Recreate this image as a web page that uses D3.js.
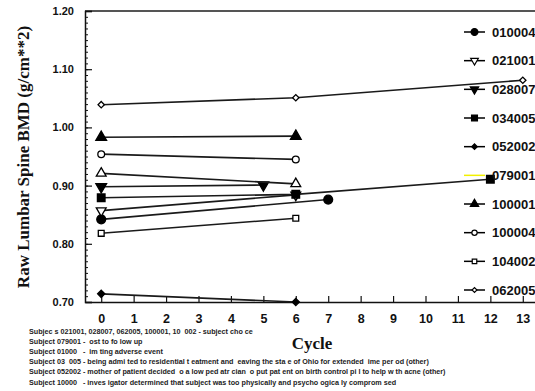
<!DOCTYPE html>
<html>
<head>
<meta charset="utf-8">
<script src="https://cdn.jsdelivr.net/npm/d3@7"></script>
<style>
  body { margin: 0; background: #fff; }
  svg { display: block; }
</style>
</head>
<body>
<div id="chart"></div>
<script>
// subjects, in legend order
const subjects = ['010004', '021001', '028007', '034005', '052002', '079001', '100001', '100004', '104002', '062005'];
// cycles at which each subject was measured
const seriesCycles = [[0, 7], [0, 6], [0, 5], [0, 6, 12], [0, 6], [0, 6], [0, 6], [0, 6], [0, 6], [0, 6, 13]];
// raw lumbar spine BMD (g/cm**2)
const seriesBmd = [
  [0.842, 0.876],
  [0.857, 0.884],
  [0.898, 0.901],
  [0.879, 0.885, 0.911],
  [0.714, 0.700],
  [0.921, 0.903],
  [0.983, 0.985],
  [0.954, 0.945],
  [0.818, 0.844],
  [1.039, 1.051, 1.081],
];
const xTicks = [0, 1, 2, 3, 4, 5, 6, 7, 8, 9, 10, 11, 12, 13];
const yTicks = [0.70, 0.80, 0.90, 1.00, 1.10, 1.20];
const footnotes = [
  'Subjec s 021001, 028007, 062005, 100001, 10  002 - subject cho ce',
  'Subject 079001 -  ost to fo low up',
  'Subject 01000   -  im ting adverse event',
  'Subject 03  005 - being admi ted to residential t eatment and  eaving the sta e of Ohio for extended  ime per od (other)',
  'Subject 052002 - mother of patient decided  o a low ped atr cian  o put pat ent on birth control pi l to help w th acne (other)',
  'Subject 10000   - inves igator determined that subject was too physically and psycho ogica ly comprom sed',
];

// marker style per subject (diamonds are squares turned 45 degrees)
const markerShape = {
  '010004': { type: d3.symbolCircle, size: 62, fill: true, rot: 0 },
  '021001': { type: d3.symbolTriangle, size: 42, fill: false, rot: 180 },
  '028007': { type: d3.symbolTriangle, size: 50, fill: true, rot: 180 },
  '034005': { type: d3.symbolSquare, size: 58, fill: true, rot: 0 },
  '052002': { type: d3.symbolSquare, size: 26, fill: true, rot: 45 },
  '079001': { type: d3.symbolTriangle, size: 42, fill: false, rot: 0 },
  '100001': { type: d3.symbolTriangle, size: 50, fill: true, rot: 0 },
  '100004': { type: d3.symbolCircle, size: 36, fill: false, rot: 0 },
  '104002': { type: d3.symbolSquare, size: 34, fill: false, rot: 0 },
  '062005': { type: d3.symbolSquare, size: 20, fill: false, rot: 45 },
};

const width = 535, height = 391;
const plot = { left: 85, right: 539, top: 11, bottom: 302 };

const svg = d3.select('#chart').append('svg')
  .attr('width', width)
  .attr('height', height)
  .style('font-family', 'Liberation Sans, Arial, sans-serif');

const x = d3.scaleLinear().domain([-0.5, 13.5]).range([plot.left, plot.right]);
const y = d3.scaleLinear().domain([0.70, 1.20]).range([plot.bottom, plot.top]);

// frame top
svg.append('line')
  .attr('x1', plot.left).attr('x2', plot.right)
  .attr('y1', plot.top).attr('y2', plot.top)
  .attr('stroke', '#555').attr('stroke-width', 2);

// minor y ticks
svg.append('g')
  .attr('transform', `translate(${plot.left},0)`)
  .call(d3.axisLeft(y).tickValues(d3.range(70, 121).map((v) => v / 100)).tickSize(-3).tickFormat(''))
  .call((g) => g.select('.domain').remove())
  .call((g) => g.selectAll('.tick line').attr('stroke', '#111'));

// major y ticks
svg.append('g')
  .attr('transform', `translate(${plot.left},0)`)
  .call(d3.axisLeft(y).tickValues(yTicks).tickSize(-7).tickPadding(11).tickFormat(d3.format('.2f')))
  .call((g) => g.select('.domain').attr('stroke', '#111').attr('stroke-width', 1.5))
  .call((g) => g.selectAll('.tick line').attr('stroke', '#111').attr('stroke-width', 1.2))
  .call((g) => g.selectAll('.tick text')
    .attr('fill', '#111').style('font-size', '11px').style('font-weight', 'bold'));

// x axis
svg.append('g')
  .attr('transform', `translate(0,${plot.bottom})`)
  .call(d3.axisBottom(x).tickValues(xTicks).tickSize(-6).tickPadding(12).tickSizeOuter(0))
  .call((g) => g.select('.domain').attr('stroke', '#111').attr('stroke-width', 1.5))
  .call((g) => g.selectAll('.tick line').attr('stroke', '#111').attr('stroke-width', 1.2))
  .call((g) => g.selectAll('.tick text')
    .attr('fill', '#111').style('font-size', '12.5px').style('font-weight', 'bold'));

// series
const line = d3.line().x((d) => x(d[0])).y((d) => y(d[1]));
const symbolPath = (m) => d3.symbol().type(m.type).size(m.size)();

subjects.forEach((id, i) => {
  const pts = seriesCycles[i].map((c, j) => [c, seriesBmd[i][j]]);
  const m = markerShape[id];
  const g = svg.append('g');
  g.append('path')
    .datum(pts)
    .attr('fill', 'none')
    .attr('stroke', '#1a1a1a')
    .attr('stroke-width', 1.6)
    .attr('d', line);
  g.selectAll('path.pt')
    .data(pts)
    .join('path')
    .attr('class', 'pt')
    .attr('d', symbolPath(m))
    .attr('transform', (d) => `translate(${x(d[0])},${y(d[1])}) rotate(${m.rot})`)
    .attr('fill', m.fill ? '#000' : '#fff')
    .attr('stroke', '#000')
    .attr('stroke-width', 1.3);
});

// legend
const legendY = d3.scaleLinear().domain([0, subjects.length - 1]).range([32, 290]);
const legend = svg.append('g');
subjects.forEach((id, i) => {
  const ly = legendY(i);
  const m = markerShape[id];
  const isYellow = id === '079001';
  legend.append('line')
    .attr('x1', 464).attr('x2', 485)
    .attr('y1', ly).attr('y2', ly)
    .attr('stroke', isYellow ? '#f2f000' : '#000')
    .attr('stroke-width', 1.5);
  if (!isYellow) {
    legend.append('path')
      .attr('d', d3.symbol().type(m.type).size(m.size * 0.6)())
      .attr('transform', `translate(474.5,${ly}) rotate(${m.rot})`)
      .attr('fill', m.fill ? '#000' : '#fff')
      .attr('stroke', '#000')
      .attr('stroke-width', 1.2);
  }
  legend.append('text')
    .attr('x', 492)
    .attr('y', ly)
    .attr('dy', '0.36em')
    .attr('fill', '#111')
    .style('font-size', '13px')
    .style('font-weight', 'bold')
    .text(id);
});

// axis titles
svg.append('text')
  .attr('transform', 'translate(29,157) rotate(-90)')
  .attr('text-anchor', 'middle')
  .style('font-family', 'Liberation Serif, Times New Roman, serif')
  .style('font-size', '17px')
  .style('font-weight', 'bold')
  .attr('fill', '#111')
  .text('Raw Lumbar Spine BMD (g/cm**2)');

svg.append('text')
  .attr('x', 312)
  .attr('y', 349)
  .attr('text-anchor', 'middle')
  .style('font-family', 'Liberation Serif, Times New Roman, serif')
  .style('font-size', '17px')
  .style('font-weight', 'bold')
  .attr('fill', '#111')
  .text('Cycle');

// footnotes
svg.append('g')
  .selectAll('text')
  .data(footnotes)
  .join('text')
  .attr('x', 29)
  .attr('y', (d, i) => 333.5 + i * 10.2)
  .attr('fill', '#222')
  .style('font-size', '7.2px')
  .style('font-weight', 'bold')
  .style('white-space', 'pre')
  .text((d) => d);
</script>
</body>
</html>
